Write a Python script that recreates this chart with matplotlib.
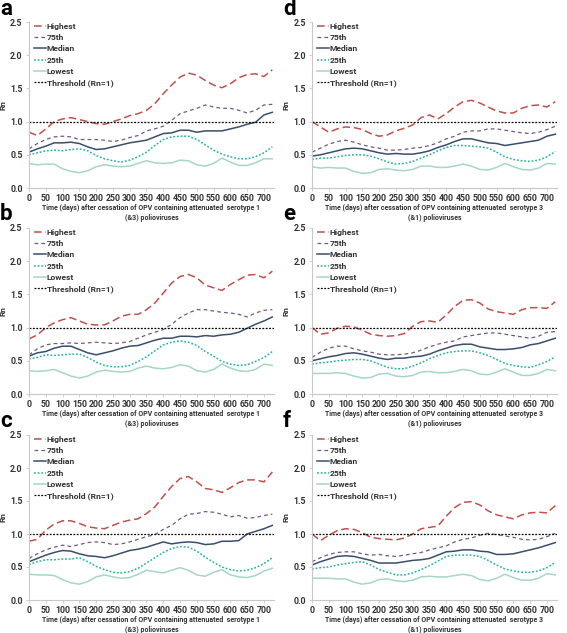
import numpy as np
import matplotlib
matplotlib.use("Agg")
import matplotlib.pyplot as plt

plt.rcParams['font.family'] = ['Roboto', 'DejaVu Sans']
plt.rcParams['font.weight'] = 'bold'

# ------------------------------------------------------------
# Data (every 25 days)
# ------------------------------------------------------------
days = list(range(0, 726, 25))

a_high = [0.84, 0.79, 0.89, 1.00, 1.04, 1.06, 1.03, 1.00, 0.97, 0.96, 1.00, 1.04, 1.09, 1.12, 1.17, 1.27,
          1.42, 1.55, 1.67, 1.73, 1.70, 1.62, 1.55, 1.51, 1.57, 1.66, 1.71, 1.72, 1.68, 1.78]
a_p75 = [0.59, 0.67, 0.73, 0.77, 0.78, 0.77, 0.73, 0.73, 0.73, 0.72, 0.70, 0.72, 0.76, 0.79, 0.86, 0.89,
         0.93, 1.02, 1.12, 1.16, 1.20, 1.25, 1.22, 1.20, 1.20, 1.17, 1.13, 1.17, 1.25, 1.26]
a_med = [0.54, 0.59, 0.63, 0.68, 0.68, 0.69, 0.67, 0.62, 0.58, 0.59, 0.62, 0.65, 0.68, 0.70, 0.72, 0.77,
         0.82, 0.83, 0.87, 0.87, 0.84, 0.86, 0.86, 0.86, 0.89, 0.92, 0.96, 0.99, 1.10, 1.14]
a_p25 = [0.50, 0.53, 0.56, 0.57, 0.56, 0.58, 0.59, 0.56, 0.49, 0.44, 0.41, 0.39, 0.42, 0.47, 0.54, 0.64,
         0.73, 0.77, 0.78, 0.78, 0.73, 0.65, 0.57, 0.51, 0.47, 0.44, 0.44, 0.47, 0.53, 0.62]
a_low = [0.37, 0.35, 0.36, 0.36, 0.29, 0.25, 0.23, 0.26, 0.32, 0.35, 0.33, 0.32, 0.33, 0.37, 0.41, 0.38,
         0.37, 0.38, 0.42, 0.41, 0.35, 0.33, 0.37, 0.45, 0.39, 0.34, 0.34, 0.38, 0.44, 0.44]

b_high = [0.83, 0.89, 1.00, 1.07, 1.12, 1.15, 1.10, 1.05, 1.04, 1.04, 1.10, 1.17, 1.20, 1.20, 1.27, 1.37,
          1.52, 1.67, 1.77, 1.80, 1.75, 1.64, 1.60, 1.56, 1.65, 1.72, 1.79, 1.80, 1.75, 1.85]
b_p75 = [0.59, 0.68, 0.74, 0.76, 0.76, 0.77, 0.76, 0.77, 0.78, 0.77, 0.76, 0.77, 0.79, 0.84, 0.89, 0.93,
         0.97, 1.05, 1.15, 1.22, 1.27, 1.27, 1.25, 1.23, 1.22, 1.20, 1.16, 1.22, 1.26, 1.27]
b_med = [0.57, 0.62, 0.64, 0.69, 0.72, 0.72, 0.67, 0.62, 0.59, 0.62, 0.65, 0.69, 0.72, 0.73, 0.77, 0.81,
         0.84, 0.84, 0.87, 0.87, 0.86, 0.88, 0.87, 0.89, 0.90, 0.93, 0.99, 1.05, 1.10, 1.16]
b_p25 = [0.53, 0.55, 0.59, 0.58, 0.59, 0.60, 0.60, 0.55, 0.48, 0.43, 0.41, 0.41, 0.43, 0.49, 0.56, 0.65,
         0.74, 0.78, 0.80, 0.78, 0.73, 0.64, 0.57, 0.49, 0.45, 0.43, 0.44, 0.49, 0.55, 0.64]
b_low = [0.35, 0.34, 0.35, 0.37, 0.32, 0.27, 0.24, 0.27, 0.33, 0.36, 0.34, 0.33, 0.34, 0.39, 0.42, 0.39,
         0.38, 0.40, 0.44, 0.42, 0.35, 0.33, 0.37, 0.45, 0.39, 0.35, 0.34, 0.37, 0.45, 0.43]

c_high = [0.89, 0.92, 1.06, 1.15, 1.20, 1.20, 1.16, 1.11, 1.09, 1.08, 1.13, 1.18, 1.21, 1.23, 1.31, 1.41,
          1.57, 1.72, 1.84, 1.87, 1.79, 1.69, 1.67, 1.63, 1.70, 1.78, 1.82, 1.82, 1.79, 1.94]
c_p75 = [0.63, 0.70, 0.76, 0.80, 0.83, 0.81, 0.84, 0.87, 0.88, 0.87, 0.84, 0.85, 0.88, 0.92, 0.96, 0.99,
         1.07, 1.13, 1.23, 1.30, 1.31, 1.34, 1.33, 1.30, 1.26, 1.28, 1.24, 1.25, 1.28, 1.30]
c_med = [0.58, 0.63, 0.68, 0.72, 0.75, 0.74, 0.70, 0.67, 0.66, 0.64, 0.67, 0.71, 0.75, 0.77, 0.80, 0.84,
         0.88, 0.85, 0.87, 0.88, 0.87, 0.84, 0.85, 0.89, 0.89, 0.90, 1.00, 1.04, 1.08, 1.13]
c_p25 = [0.54, 0.58, 0.61, 0.61, 0.62, 0.62, 0.64, 0.58, 0.51, 0.46, 0.42, 0.41, 0.43, 0.48, 0.56, 0.64,
         0.72, 0.78, 0.81, 0.80, 0.74, 0.65, 0.57, 0.50, 0.46, 0.44, 0.45, 0.49, 0.55, 0.64]
c_low = [0.39, 0.38, 0.38, 0.37, 0.31, 0.26, 0.24, 0.28, 0.35, 0.38, 0.35, 0.33, 0.34, 0.39, 0.45, 0.43,
         0.41, 0.45, 0.49, 0.45, 0.38, 0.36, 0.42, 0.46, 0.38, 0.35, 0.34, 0.37, 0.44, 0.48]

d_high = [1.00, 0.92, 0.84, 0.89, 0.92, 0.91, 0.88, 0.82, 0.78, 0.80, 0.86, 0.90, 0.95, 1.06, 1.10, 1.04,
          1.12, 1.22, 1.30, 1.32, 1.28, 1.22, 1.16, 1.13, 1.13, 1.20, 1.24, 1.25, 1.22, 1.30]
d_p75 = [0.54, 0.60, 0.66, 0.70, 0.72, 0.69, 0.65, 0.62, 0.60, 0.57, 0.57, 0.58, 0.60, 0.61, 0.64, 0.68,
         0.74, 0.78, 0.84, 0.86, 0.86, 0.89, 0.89, 0.87, 0.85, 0.83, 0.82, 0.84, 0.88, 0.93]
d_med = [0.48, 0.50, 0.53, 0.56, 0.59, 0.60, 0.59, 0.56, 0.53, 0.51, 0.52, 0.51, 0.51, 0.53, 0.56, 0.61,
         0.65, 0.70, 0.74, 0.74, 0.71, 0.68, 0.67, 0.64, 0.66, 0.68, 0.70, 0.72, 0.78, 0.81]
d_p25 = [0.43, 0.45, 0.45, 0.47, 0.49, 0.50, 0.50, 0.48, 0.44, 0.39, 0.36, 0.37, 0.40, 0.45, 0.50, 0.56,
         0.61, 0.64, 0.64, 0.63, 0.62, 0.60, 0.54, 0.47, 0.43, 0.41, 0.40, 0.42, 0.47, 0.55]
d_low = [0.32, 0.30, 0.31, 0.30, 0.30, 0.25, 0.22, 0.23, 0.28, 0.29, 0.27, 0.26, 0.28, 0.33, 0.33, 0.31,
         0.31, 0.33, 0.36, 0.33, 0.28, 0.27, 0.31, 0.37, 0.32, 0.28, 0.27, 0.30, 0.37, 0.36]

e_high = [1.00, 0.90, 0.92, 0.99, 1.02, 1.01, 0.96, 0.90, 0.88, 0.87, 0.88, 0.91, 1.02, 1.09, 1.10, 1.08,
          1.19, 1.32, 1.41, 1.42, 1.37, 1.28, 1.24, 1.22, 1.20, 1.27, 1.30, 1.30, 1.29, 1.39]
e_p75 = [0.55, 0.63, 0.69, 0.72, 0.72, 0.68, 0.65, 0.63, 0.60, 0.59, 0.59, 0.60, 0.62, 0.66, 0.71, 0.75,
         0.78, 0.80, 0.86, 0.88, 0.90, 0.92, 0.92, 0.90, 0.88, 0.86, 0.84, 0.87, 0.93, 0.94]
e_med = [0.50, 0.53, 0.56, 0.58, 0.61, 0.62, 0.60, 0.57, 0.54, 0.52, 0.54, 0.54, 0.56, 0.57, 0.60, 0.65,
         0.69, 0.73, 0.75, 0.75, 0.71, 0.69, 0.67, 0.67, 0.68, 0.70, 0.74, 0.76, 0.80, 0.84]
e_p25 = [0.45, 0.47, 0.48, 0.50, 0.51, 0.52, 0.52, 0.50, 0.45, 0.40, 0.38, 0.38, 0.42, 0.47, 0.53, 0.58,
         0.62, 0.64, 0.65, 0.65, 0.62, 0.58, 0.52, 0.46, 0.43, 0.41, 0.40, 0.44, 0.49, 0.56]
e_low = [0.31, 0.31, 0.31, 0.32, 0.31, 0.27, 0.24, 0.25, 0.30, 0.31, 0.27, 0.26, 0.28, 0.33, 0.34, 0.32,
         0.32, 0.34, 0.37, 0.35, 0.30, 0.29, 0.33, 0.38, 0.33, 0.28, 0.28, 0.31, 0.37, 0.35]

f_high = [1.00, 0.90, 0.98, 1.05, 1.08, 1.07, 1.02, 0.95, 0.93, 0.92, 0.91, 0.94, 1.00, 1.08, 1.10, 1.12,
          1.27, 1.40, 1.48, 1.49, 1.44, 1.35, 1.29, 1.26, 1.23, 1.29, 1.32, 1.33, 1.32, 1.43]
f_p75 = [0.58, 0.64, 0.69, 0.72, 0.73, 0.73, 0.70, 0.68, 0.69, 0.67, 0.66, 0.68, 0.70, 0.72, 0.76, 0.79,
         0.82, 0.88, 0.92, 0.94, 0.98, 1.01, 0.99, 0.97, 0.95, 0.92, 0.91, 0.92, 0.96, 1.01]
f_med = [0.53, 0.58, 0.62, 0.66, 0.67, 0.66, 0.63, 0.60, 0.56, 0.56, 0.56, 0.58, 0.60, 0.61, 0.63, 0.68,
         0.73, 0.74, 0.76, 0.76, 0.74, 0.73, 0.69, 0.69, 0.70, 0.73, 0.76, 0.79, 0.83, 0.87]
f_p25 = [0.47, 0.49, 0.50, 0.53, 0.55, 0.57, 0.58, 0.53, 0.46, 0.42, 0.38, 0.38, 0.41, 0.46, 0.52, 0.59,
         0.66, 0.68, 0.68, 0.68, 0.66, 0.60, 0.53, 0.47, 0.44, 0.42, 0.42, 0.44, 0.49, 0.57]
f_low = [0.33, 0.33, 0.33, 0.32, 0.32, 0.27, 0.24, 0.26, 0.31, 0.32, 0.29, 0.28, 0.30, 0.35, 0.36, 0.35,
         0.35, 0.37, 0.39, 0.37, 0.31, 0.29, 0.33, 0.39, 0.34, 0.30, 0.30, 0.33, 0.40, 0.38]

panel_letters = ['a', 'b', 'c', 'd', 'e', 'f']
panel_series = [
    [a_high, a_p75, a_med, a_p25, a_low],
    [b_high, b_p75, b_med, b_p25, b_low],
    [c_high, c_p75, c_med, c_p25, c_low],
    [d_high, d_p75, d_med, d_p25, d_low],
    [e_high, e_p75, e_med, e_p25, e_low],
    [f_high, f_p75, f_med, f_p25, f_low],
]
series_names = ['Highest', '75th', 'Median', '25th', 'Lowest']
xlabels = ['Time (days) after cessation of OPV containing attenuated  serotype 1\n(&3) polioviruses'] * 3 + \
          ['Time (days) after cessation of OPV containing attenuated  serotype 3\n(&1) polioviruses'] * 3

# ------------------------------------------------------------
# Styles
# ------------------------------------------------------------
styles = [
    dict(color='#C0504D', linestyle=(0, (5, 2.5)), lw=1.1),
    dict(color='#6E5A86', linestyle=(0, (3, 2.5)), lw=0.9),
    dict(color='#3A4E6B', linestyle='-', lw=1.1),
    dict(color='#27B39E', linestyle=(0, (1.2, 1.2)), lw=1.1),
    dict(color='#A6D6C4', linestyle='-', lw=1.1),
]
txt_color = '#333333'

fig = plt.figure(figsize=(5.67, 6.33), dpi=100)
W, H = 567.0, 633.0
lefts = [29, 29, 29, 312, 312, 312]
bottoms = [188, 394, 600, 188, 394, 600]
tops = [22, 228, 435, 22, 228, 435]
letter_base = [15, 220, 427, 15, 220, 427]
letter_x = [0, 0, 0, 283, 283, 283]

for i in range(6):
    ax = fig.add_axes([lefts[i] / W, 1 - bottoms[i] / H, 245 / W, (bottoms[i] - tops[i]) / H])
    for vals, name, st in zip(panel_series[i], series_names, styles):
        ax.plot(days, vals, label=name, **st)
    ax.axhline(1.0, color='black', linestyle=(0, (1.5, 1.2)), lw=0.9, label='Threshold (Rn=1)')
    ax.set_xlim(0, 730)
    ax.set_ylim(0, 2.5)
    ax.set_xticks(range(0, 701, 50))
    ax.set_yticks([0, 0.5, 1.0, 1.5, 2.0, 2.5])
    ax.set_yticklabels(['0.0', '0.5', '1.0', '1.5', '2.0', '2.5'])
    for sp in ['top', 'right']:
        ax.spines[sp].set_visible(False)
    for sp in ['left', 'bottom']:
        ax.spines[sp].set_color('#C8C8C8')
        ax.spines[sp].set_linewidth(0.8)
    ax.tick_params(axis='both', labelsize=6.3, colors='#C8C8C8', labelcolor=txt_color,
                   length=2.5, width=0.6, pad=2)
    for lab in ax.get_xticklabels() + ax.get_yticklabels():
        lab.set_fontweight('bold')
    ax.set_ylabel('Rn', fontsize=6, fontweight='bold', color=txt_color)
    ax.yaxis.set_label_coords(-0.092, 0.5)
    ax.set_xlabel(xlabels[i], fontsize=5.0, fontweight='bold', color=txt_color,
                  labelpad=0.8, linespacing=1.2)
    leg = ax.legend(loc='upper left', bbox_to_anchor=(0.0, 1.025), frameon=False,
                    fontsize=6.1, handlelength=1.35, handletextpad=0.15, labelspacing=0.5,
                    borderaxespad=0.2)
    for t in leg.get_texts():
        t.set_color(txt_color)
        t.set_fontweight('bold')
    fig.text(letter_x[i] / W, 1 - letter_base[i] / H, panel_letters[i], fontsize=16,
             fontweight='bold', va='baseline', ha='left', color='black')

fig.savefig('out.png', dpi=100)
